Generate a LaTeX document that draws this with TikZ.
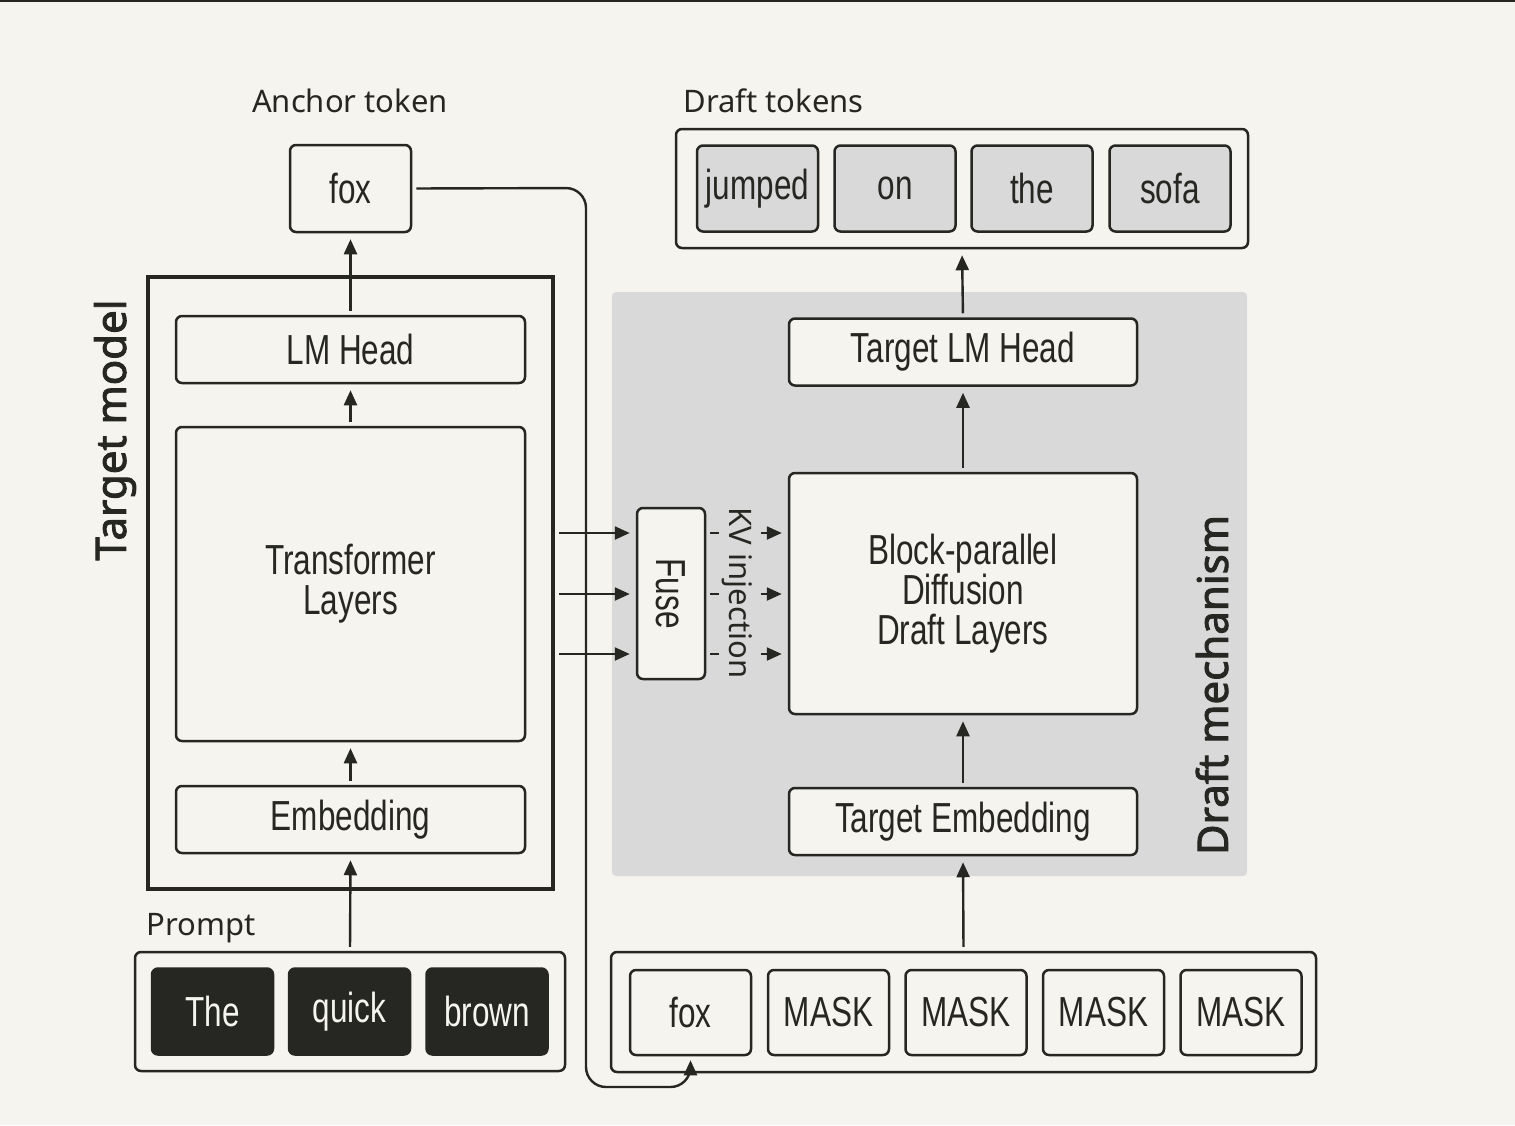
\documentclass[tikz,border=0pt]{standalone}
\usepackage{fontspec}
\setmainfont{Noto Sans}
\newfontfamily\boxfont[FakeStretch=0.75]{Liberation Sans}
\newfontfamily\titlefont[FakeBold=2.2]{Noto Sans}
\usetikzlibrary{arrows.meta,calc}
\definecolor{bg}{HTML}{F5F4EF}
\definecolor{ink}{HTML}{262622}
\definecolor{panel}{HTML}{D9D9D9}
\begin{document}
\begin{tikzpicture}[x=0.5pt,y=-0.5pt,
  box/.style={draw=ink, line width=1.25pt, rounded corners=3pt, fill=bg, text=ink, inner sep=0pt,
    font=\boxfont\fontsize{21}{21}\selectfont, align=center},
  wide/.style={box, minimum width=174.5pt, minimum height=33.5pt},
  tok/.style={box, minimum width=60.5pt, minimum height=43pt},
  darktok/.style={tok, fill=ink, draw=ink, text=bg},
  greytok/.style={tok, fill=panel},
  group/.style={draw=ink, line width=1.25pt, rounded corners=3pt, inner sep=0pt},
  lbl/.style={text=ink, font=\fontsize{15.5}{18}\selectfont, inner sep=0pt},
  big/.style={text=ink, font=\titlefont\fontsize{21}{24}\selectfont, inner sep=0pt, rotate=90},
  arr/.style={draw=ink, line width=1.2pt, -{Triangle[length=7.5pt,width=6.5pt]}, shorten <=2pt, shorten >=3pt},
  dasharr/.style={arr, dash pattern=on 4.5pt off 4pt}
]
\useasboundingbox[fill=bg] (0,0) rectangle (1515,1125);
\draw[ink, line width=1pt] (0,1) -- (1515,1);

% draft panel
\node[fill=panel, rounded corners=2pt, minimum width=317.5pt, minimum height=292pt, inner sep=0pt] (panel) at (929.5,584) {};

% target model
\node[draw=ink, line width=2pt, minimum width=202.5pt, minimum height=306pt, inner sep=0pt] (tm) at (350.5,583) {};
\node[wide] (lmhead) at (350.5,349.5) {LM Head};
\node[box, minimum width=174.5pt, minimum height=157pt] (trans) at (350.5,584) {Transformer\\[-1pt]Layers};
\node[wide] (emb) at (350.5,819.5) {Embedding};
\node[big] (tmlabel) at (115,430) {Target model};

% anchor token
\node[lbl] (anchorlbl) at (350,101) {Anchor token};
\node[tok, minimum height=43.5pt] (foxa) at (350.5,188.5) {fox};

% prompt
\node[lbl, anchor=west] (promptlbl) at (146,928) {Prompt};
\node[group, minimum width=215pt, minimum height=59.5pt] (prompt) at (350,1011.5) {};
\node[darktok] (the) at (212.5,1011.5) {The};
\node[darktok] (quick) at (349.5,1011.5) {quick};
\node[darktok] (brown) at (487,1011.5) {brown};

% draft tokens
\node[lbl, anchor=west] (draftlbl) at (683,101) {Draft tokens};
\node[group, minimum width=286pt, minimum height=59.5pt] (drafts) at (962,188.5) {};
\node[greytok] (jumped) at (757.5,188.5) {jumped};
\node[greytok] (on) at (895,188.5) {on};
\node[greytok] (the2) at (1032,188.5) {the};
\node[greytok] (sofa) at (1170,188.5) {sofa};

% draft mechanism
\node[wide, minimum width=174pt] (tlmhead) at (963,352) {Target LM Head};
\node[box, minimum width=174pt, minimum height=120.5pt] (block) at (963,593.5) {Block-parallel\\[-1pt]Diffusion\\[-1pt]Draft Layers};
\node[wide, minimum width=174pt] (temb) at (963,821.5) {Target Embedding};
\node[big] (dmlabel) at (1212,685) {Draft mechanism};
\node[box, minimum width=34pt, minimum height=85.5pt] (fuse) at (671,593.5) {\rotatebox{-90}{Fuse}};

% bottom input
\node[group, minimum width=352.5pt, minimum height=60pt] (inputs) at (963.5,1012) {};
\node[tok, minimum height=42.5pt] (fox2) at (690.5,1012.5) {fox};
\node[tok, minimum height=42.5pt] (m1) at (828.5,1012.5) {MASK};
\node[tok, minimum height=42.5pt] (m2) at (966,1012.5) {MASK};
\node[tok, minimum height=42.5pt] (m3) at (1103.5,1012.5) {MASK};
\node[tok, minimum height=42.5pt] (m4) at (1241,1012.5) {MASK};

% vertical arrows
\draw[arr] (lmhead.north) -- (foxa.south);
\draw[arr] (trans.north) -- (lmhead.south);
\draw[arr] (emb.north) -- (trans.south);
\draw[arr] (prompt.north) -- (emb.south);
\draw[arr] (tlmhead.north) -- (drafts.south);
\draw[arr] (block.north) -- (tlmhead.south);
\draw[arr] (temb.north) -- (block.south);
\draw[arr] (inputs.north) -- (temb.south);

% horizontal arrows
\coordinate (r1) at (0,533);
\coordinate (r2) at (0,594);
\coordinate (r3) at (0,654);
\foreach \r in {r1,r2,r3}{
  \draw[arr] (tm.east |- \r) -- (fuse.west |- \r);
  \draw[dasharr] (fuse.east |- \r) -- (block.west |- \r);
}
\node[lbl, fill=panel, rotate=-90, inner sep=1pt] (kv) at (737,593) {KV injection};

% anchor loop
\coordinate (c1) at (586,188);
\coordinate (c2) at (586,1087);
\coordinate (c3) at (690.5,1087);
\draw[arr, rounded corners=10pt, shorten <=2pt, shorten >=2pt] (foxa.east) -- (c1) -- (c2) -- (c3) -- (fox2.south);
\end{tikzpicture}
\end{document}
